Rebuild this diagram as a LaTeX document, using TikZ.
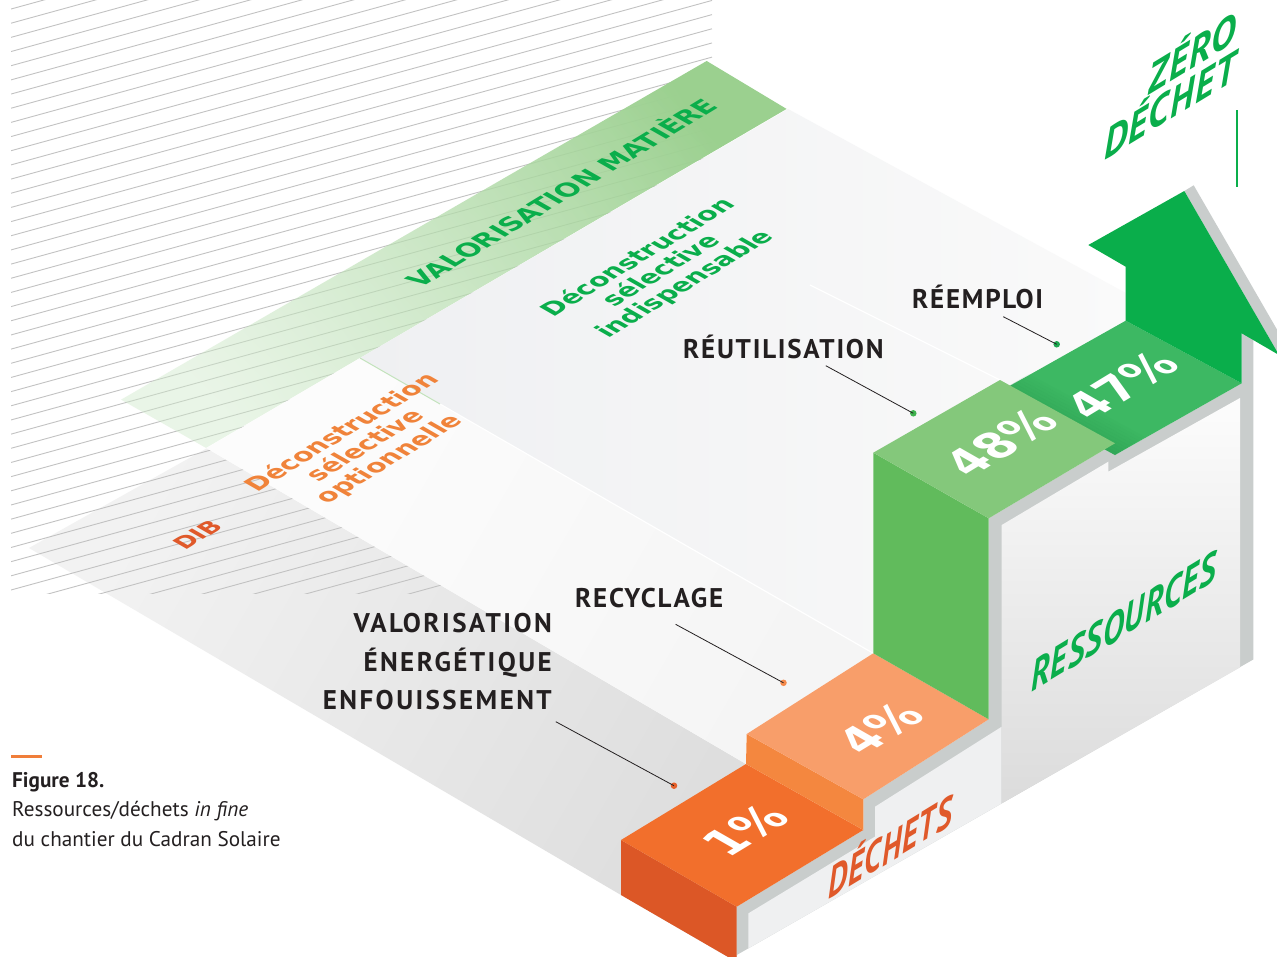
\documentclass[tikz,border=0pt]{standalone}
\usepackage{fontspec}
\setmainfont{PT Sans}
\newfontfamily\lblfont[LetterSpace=6.5]{PT Sans}
\newfontfamily\lblwide[LetterSpace=9]{PT Sans}
\newfontfamily\wallfont[LetterSpace=3]{PT Sans}
\newfontfamily\floorfont{DejaVu Sans}
\usetikzlibrary{fadings}
\definecolor{orTop}{HTML}{F26F2C}
\definecolor{orFront}{HTML}{DC5726}
\definecolor{orRiser}{HTML}{F4873F}
\definecolor{orLight}{HTML}{F89E6A}
\definecolor{grRiser}{HTML}{61BB5C}
\definecolor{grTop}{HTML}{84C87B}
\definecolor{grTopB}{HTML}{3DB863}
\definecolor{grShadow}{HTML}{23934A}
\definecolor{grArrow}{HTML}{0AAE4B}
\definecolor{rimc}{HTML}{C9CDCC}
\definecolor{panelA}{HTML}{EFF0F1}
\definecolor{inkdark}{HTML}{231F20}
\definecolor{txtGreen}{HTML}{0AAE4B}
\definecolor{txtOrange}{HTML}{F0833A}
\definecolor{txtRed}{HTML}{E0592A}
\definecolor{hatchc}{HTML}{C2C2C2}
\definecolor{bandDark}{HTML}{9BD08F}
\definecolor{bandLight}{HTML}{CFE9CA}
\definecolor{sheetUp}{HTML}{EFF0F2}
\definecolor{dotGa}{HTML}{1DA851}
\definecolor{dotGb}{HTML}{3FB34F}
\definecolor{dotOa}{HTML}{F58A4B}
\definecolor{dotOb}{HTML}{E5602B}
\definecolor{capline}{HTML}{F07E3A}
\tikzfading[name=bandfade, top color=transparent!0, bottom color=transparent!55]
\begin{document}
\begin{tikzpicture}[x=1pt,y=-1pt,
  hatchline/.style={draw=hatchc, line width=0.9pt},
  leader/.style={draw=inkdark, line width=0.8pt},
  dot/.style={circle, inner sep=0pt, minimum size=6.5pt},
  lbl/.style={font=\lblfont\bfseries\fontsize{27}{30}\selectfont, text=inkdark, inner sep=0pt},
  lblw/.style={font=\lblwide\bfseries\fontsize{27}{30}\selectfont, text=inkdark, inner sep=0pt},
  floortx/.style={transform shape, inner sep=0pt, align=center},
  walltx/.style={transform shape, inner sep=0pt},
  pct/.style={transform shape, inner sep=0pt, text=white, font=\floorfont\bfseries\fontsize{49}{52}\selectfont},
  captx/.style={inner sep=0pt, text=inkdark, font=\fontsize{21.2}{25}\selectfont},
]
\useasboundingbox (0,0) rectangle (1277,956);
\fill[white] (0,0) rectangle (1277,956);
\clip (0,0) rectangle (1277,956);

% ---------- background sheets ----------
\shade[top color=black!5, bottom color=black!13, shading angle=60]
  (29,548) -- (206.7,448.3) -- (746,764) -- (736.7,962) -- (621,895) -- cycle;

\begin{scope}
  \clip (11,0) rectangle (712,593);
  \foreach \k in {-14,...,42} {
    \draw[hatchline] (11,{590-14.17*\k}) -- (712,{590-14.17*\k-192.8});
  }
\end{scope}

\shade[top color=bandDark, bottom color=bandLight, shading angle=-59,
       path fading=bandfade, fading angle=-59]
  (121.7,400) -- (708,61) -- (788,109) -- (206.7,448.3) -- cycle;

\shade[top color=black!1, bottom color=black!4, shading angle=60]
  (206.7,448.3) -- (360,358) -- (873.3,653.3) -- (746.7,734) -- (746,764) -- cycle;

\shade[left color=sheetUp, right color=black!2]
  (360,358) -- (788,109) -- (1125.7,293) -- (1125.7,400) -- (999,392)
  -- (873.3,452.7) -- (873.3,653.3) -- cycle;

\draw[white, line width=1.3pt] (810,285) -- (1000,380);
\draw[white, line width=1.2pt] (440,404) -- (873.3,653.3);
\draw[bandDark!60, line width=1pt] (360,358) -- (440,404);

% ---------- floor texts ----------
\begin{scope}[shift={(560,192)},cm={0.854,0.519,-0.868,0.496,(0,0)}]
  \node[floortx, text=txtGreen, font=\floorfont\bfseries\fontsize{26}{30}\selectfont] (valmat) at (0,0) {VALORISATION MATIÈRE};
\end{scope}
\begin{scope}[shift={(662,271)},cm={0.854,0.519,-0.868,0.496,(0,0)}]
  \node[floortx, text=txtGreen, font=\floorfont\bfseries\fontsize{25}{27}\selectfont] (decind) at (0,0) {Déconstruction\\sélective\\indispensable};
\end{scope}
\begin{scope}[shift={(366,446)},cm={0.854,0.519,-0.868,0.496,(0,0)}]
  \node[floortx, text=txtOrange, font=\floorfont\bfseries\fontsize{25}{27}\selectfont] (decopt) at (0,0) {Déconstruction\\sélective\\optionnelle};
\end{scope}
\begin{scope}[shift={(197.5,535)},cm={0.854,0.519,-0.868,0.496,(0,0)}]
  \node[floortx, text=txtRed, font=\floorfont\bfseries\fontsize{23}{26}\selectfont] (dib) at (0,0) {DIB};
\end{scope}

% ---------- end face ----------
\fill[rimc] (736.7,955) -- (736.7,906.7) -- (863.3,830) -- (863.3,799.3) -- (988.7,719.3)
  -- (988.7,518.3) -- (1115,443.3) -- (1115,455) -- (1241.7,383.3) -- (1241.7,333.3)
  -- (1253.4,326.2) -- (1253.4,659.4) -- cycle;
\fill[panelA] (748.4,913.3) -- (875,836.6) -- (875,806.7) -- (1001.7,726.7)
  -- (1001.7,803.4) -- (748.4,948.3) -- cycle;
\shade[top color=black!1, bottom color=black!14]
  (1001.7,525) -- (1108.3,461.7) -- (1108.3,471.7) -- (1240,398) -- (1240,667.4)
  -- (1001.7,803.4) -- cycle;

% ---------- blocks ----------
\fill[orFront] (621,840) -- (736.7,906.7) -- (736.7,962) -- (621,895) -- cycle;
\fill[orTop] (621,840) -- (746,764) -- (863.3,830) -- (736.7,906.7) -- cycle;
\fill[orRiser] (746.7,734) -- (863.3,799.3) -- (863.3,830) -- (746,764) -- cycle;
\fill[orLight] (746.7,734) -- (873.3,653.3) -- (988.7,719.3) -- (863.3,799.3) -- cycle;
\fill[grRiser] (873.3,452.7) -- (988.7,518.3) -- (988.7,719.3) -- (873.3,653.3) -- cycle;
\fill[grTopB] (999,392) -- (1125.7,320.7) -- (1241.7,383.3) -- (1115,455) -- cycle;
\foreach \i in {0,...,9} {
  \pgfmathsetmacro{\op}{0.42*(1-\i/10)}
  \fill[grShadow, fill opacity=\op]
    ({999+3.5*\i*0.854},{392-3.5*\i*0.519}) -- ({1115+3.5*\i*0.854},{455-3.5*\i*0.519})
    -- ({1115+3.5*(\i+1)*0.854},{455-3.5*(\i+1)*0.519}) -- ({999+3.5*(\i+1)*0.854},{392-3.5*(\i+1)*0.519}) -- cycle;
}
\fill[grTop] (873.3,452.7) -- (1000,380) -- (1115,443.3) -- (988.7,518.3) -- cycle;

% ---------- arrow ----------
\fill[rimc] (1184.3,191) -- (1193.7,185.3) -- (1288.4,349.3) -- (1279,355) -- cycle;
\fill[grArrow] (1125.7,320.7) -- (1125.7,266.7) -- (1088.3,245) -- (1184.3,191)
  -- (1279,355) -- (1241.7,333.3) -- (1241.7,383.3) -- cycle;
\draw[grArrow, line width=2.6pt] (1237,110) -- (1237,187);

% ---------- texts on blocks ----------
\begin{scope}[shift={(745,830)},cm={0.777,0.472,-0.868,0.496,(0,0)}]
  \node[pct] (p1) at (0,0) {1\%};
\end{scope}
\begin{scope}[shift={(880,728)},cm={0.777,0.472,-0.868,0.496,(0,0)}]
  \node[pct] (p4) at (0,0) {4\%};
\end{scope}
\begin{scope}[shift={(1001,442)},cm={0.777,0.472,-0.868,0.496,(0,0)}]
  \node[pct] (p48) at (0,0) {48\%};
\end{scope}
\begin{scope}[shift={(1122,385)},cm={0.777,0.472,-0.868,0.496,(0,0)}]
  \node[pct] (p47) at (0,0) {47\%};
\end{scope}

% ---------- wall texts ----------
\begin{scope}[shift={(828,900)},cm={0.717,0.436,0,1,(0,0)}]
  \node[walltx, anchor=base west, text=txtRed, font=\wallfont\bfseries\itshape\fontsize{43}{45}\selectfont] (dech) at (0,0) {DÉCHETS};
\end{scope}
\begin{scope}[shift={(1031,693)},cm={0.752,0.457,0,1,(0,0)}]
  \node[walltx, anchor=base west, text=txtGreen, font=\wallfont\bfseries\itshape\fontsize{43}{45}\selectfont] (ress) at (0,0) {RESSOURCES};
\end{scope}
\begin{scope}[shift={(1236,42)},cm={0.90,0.547,0,1,(0,0)}]
  \node[walltx, anchor=base east, text=txtGreen, font=\wallfont\bfseries\itshape\fontsize{42}{44}\selectfont] (zero) at (0,0) {ZÉRO};
\end{scope}
\begin{scope}[shift={(1236,80)},cm={0.90,0.547,0,1,(0,0)}]
  \node[walltx, anchor=base east, text=txtGreen, font=\wallfont\bfseries\itshape\fontsize{42}{44}\selectfont] (zdech) at (0,0) {DÉCHET};
\end{scope}

% ---------- labels and leaders ----------
\node[lbl, anchor=base west] (reemploi) at (912,308) {RÉEMPLOI};
\node[lbl, anchor=base west] (reutil) at (683,358.5) {RÉUTILISATION};
\node[lbl, anchor=base west] (recyc) at (575,607) {RECYCLAGE};
\node[lblw, anchor=base east] (valA) at (552,632.5) {VALORISATION};
\node[lblw, anchor=base east] (valB) at (552,671) {ÉNERGÉTIQUE};
\node[lblw, anchor=base east] (valC) at (552,709.5) {ENFOUISSEMENT};

\coordinate (reemS) at (1003.3,316.7);
\node[dot, fill=dotGa] (reemD) at (1056.7,344.3) {};
\draw[leader] (reemS) -- (reemD.center);
\coordinate (reutS) at (825.8,365.7);
\node[dot, fill=dotGb] (reutD) at (913.3,413.3) {};
\draw[leader] (reutS) -- (reutD.center);
\coordinate (recS) at (675.6,624.3);
\node[dot, fill=dotOa] (recD) at (783.5,682.8) {};
\draw[leader] (recS) -- (recD.center);
\coordinate (valS) at (555.8,721.7);
\node[dot, fill=dotOb] (valD) at (674,785.7) {};
\draw[leader] (valS) -- (valD.center);

% ---------- caption ----------
\fill[capline] (11,755.2) rectangle (41.5,758.2);
\node[captx, anchor=base west, font=\bfseries\fontsize{21.2}{25}\selectfont] (figt) at (12,787.3) {Figure 18.};
\node[captx, anchor=base west] (capA) at (12,816.7) {Ressources/déchets \textit{in fine}};
\node[captx, anchor=base west] (capB) at (12,846.7) {du chantier du Cadran Solaire};
\end{tikzpicture}
\end{document}
